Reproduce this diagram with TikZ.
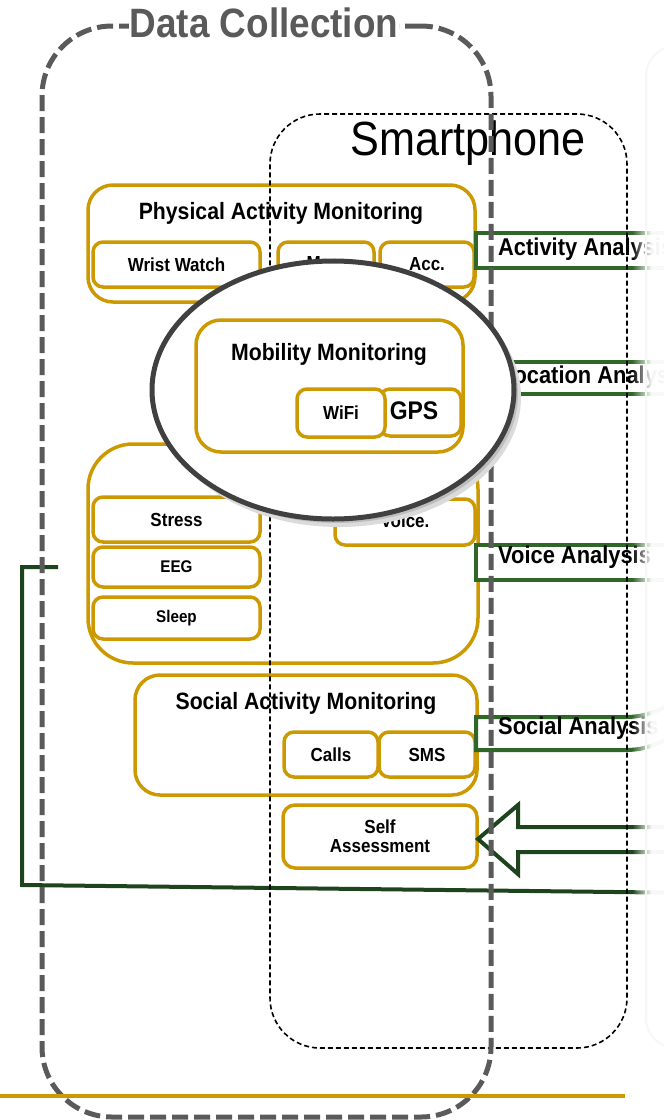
\documentclass[tikz,border=0pt]{standalone}
\usepackage{fontspec}
\setmainfont[FakeStretch=0.9]{Liberation Sans}
\usetikzlibrary{fit,fadings,shapes.geometric}
\definecolor{gold}{RGB}{204,153,0}
\definecolor{bandgreen}{RGB}{47,103,41}
\definecolor{darkgreen}{RGB}{30,68,30}
\definecolor{dcgray}{RGB}{90,90,90}
\definecolor{ringgray}{RGB}{64,64,64}
\newcommand{\fsz}[1]{\fontsize{#1}{#1}\selectfont}
\begin{document}
\begin{tikzpicture}[x=1pt,y=-1pt,
  gbox/.style={draw=gold, line width=3.5pt, fill=white, inner sep=0pt},
  gband/.style={draw=bandgreen, line width=4pt, fill=white, inner sep=0pt},
  lbl/.style={font=\bfseries\fsz{18.9}, inner sep=0pt},
  smalllbl/.style={font=\bfseries\fsz{16.9}, inner sep=0pt},
  boxtitle/.style={font=\bfseries\fsz{23.6}, inner sep=0pt},
  alabel/.style={font=\bfseries\fsz{24.3}, anchor=west, inner sep=0pt},
  fbline/.style={draw=darkgreen, line width=4pt},
  dcbox/.style={draw=dcgray, line width=5pt, dash pattern=on 16pt off 6pt, inner sep=0pt},
  phonebox/.style={draw=black, line width=1.6pt, dash pattern=on 5pt off 3pt, inner sep=0pt}]
\useasboundingbox (0,0) rectangle (664,1120);

% ---- sensing modules ----
\node[gbox, rounded corners=25pt, fit={(88,185) (475,302)}] (pam) {};
\node[boxtitle] (pamT) at (281,213) {Physical Activity Monitoring};
\node[gbox, rounded corners=10pt, fit={(93,242) (260,287)}] (wrist) {};
\node[lbl] at (wrist.center) {Wrist Watch};
\node[gbox, rounded corners=10pt, fit={(278,242) (374,287)}] (mag) {};
\node[lbl] at (mag.center) {Mag.};
\node[gbox, rounded corners=10pt, fit={(380,242) (474,287)}] (acc) {};
\node[lbl] at (acc.center) {Acc.};

\node[gbox, rounded corners=45pt, fit={(88,444) (478,663)}] (mental) {};
\node[gbox, rounded corners=10pt, fit={(93,497) (260,542)}] (stress) {};
\node[lbl] at (stress.center) {Stress};
\node[gbox, rounded corners=10pt, fit={(93,547) (260,587)}] (eeg) {};
\node[smalllbl] at (eeg.center) {EEG};
\node[gbox, rounded corners=10pt, fit={(93,597) (260,639)}] (sleep) {};
\node[smalllbl] at (sleep.center) {Sleep};
\node[gbox, rounded corners=10pt, fit={(335,499) (475,545)}] (voice) {};
\node[lbl] at (405,521) {Voice.};

\node[gbox, rounded corners=25pt, fit={(135,675) (477,795)}] (social) {};
\node[boxtitle] (socialT) at (306,703) {Social Activity Monitoring};
\node[gbox, rounded corners=10pt, fit={(284,732) (378,777)}] (calls) {};
\node[lbl] at (calls.center) {Calls};
\node[gbox, rounded corners=10pt, fit={(379,732) (475,777)}] (sms) {};
\node[lbl] at (sms.center) {SMS};

\node[gbox, rounded corners=12pt, fit={(283,805) (477,868)}] (self) {};
\node[inner sep=0pt, align=center, font=\bfseries\fontsize{18.9}{19}\selectfont] at (380,836) {Self\\Assessment};

% ---- analysis bands ----
\node[gband, fit={(476,233) (720,268)}] (actband) {};
\node[alabel] (actL) at (498,249) {Activity Analysis};
\node[gband, fit={(476,362) (720,394)}] (locband) {};
\node[alabel] (locL) at (500,377) {Location Analysis};
\node[gband, fit={(476,545) (720,580)}] (voiceband) {};
\node[alabel] (voiceL) at (498,557) {Voice Analysis};
\draw[draw=bandgreen, line width=4pt, fill=white]
  (680,700) .. controls (655,712) and (645,717) .. (625,717) -- (476,717)
  -- (476,750) -- (625,750) .. controls (645,750) and (655,745) .. (680,733);
\node[alabel] (socialL) at (498,728) {Social Analysis};

% feedback into self assessment
\coordinate (tip) at (478,839);
\draw[fbline, fill=white, line join=miter]
  (700,827) -- (518,827) -- (518,805) -- (tip) -- (518,874) -- (518,852) -- (700,852);
\coordinate (fbA) at (58,567);
\coordinate (fbB) at (22,567);
\coordinate (fbC) at (22,885);
\coordinate (fbD) at (700,893);
\draw[fbline] (fbA) -- (fbB) -- (fbC) -- (fbD);

% ---- smartphone frame ----
\node[phonebox, rounded corners=50pt, fit={(270,114) (627,1048)}] (phone) {};
\node[font=\fsz{48}, inner sep=0pt] (phoneT) at (468,143) {Smartphone};

% ---- data collection frame ----
\node[dcbox, rounded corners=70pt, fit={(42,26) (491,1117)}] (dc) {};
\node[font=\bfseries\fsz{41}, text=dcgray, fill=white, inner xsep=1pt, inner ysep=0pt] (dcT) at (264,23) {Data Collection};

% ---- magnified mobility module ----
\fill[black!14] (339,397) ellipse [x radius=182, y radius=130];
\fill[black!26] (337,394) ellipse [x radius=181, y radius=129];
\node[ellipse, draw=ringgray, line width=5pt, fill=white, minimum width=362pt, minimum height=258pt, inner sep=0pt] (lens) at (333,390) {};
\node[gbox, rounded corners=25pt, fit={(196,320) (463,452)}] (mob) {};
\node[boxtitle] (mobT) at (329,354) {Mobility Monitoring};
\node[gbox, rounded corners=10pt, fit={(380,389) (461,436)}] (gps) {};
\node[font=\bfseries\fsz{25.5}, inner sep=0pt] at (414,411) {GPS};
\node[gbox, rounded corners=10pt, fit={(297,389) (385,437)}] (wifi) {};
\node[lbl] at (wifi.center) {WiFi};

% ---- bottom rule ----
\coordinate (ruleL) at (0,1096);
\coordinate (ruleR) at (625,1096);
\draw[gold, line width=4pt] (ruleL) -- (ruleR);

% ---- right margin fade ----
\fill[white, path fading=west] (632,-5) rectangle (652,1125);
\fill[white, opacity=0.96] (652,-5) rectangle (670,1125);
\node[draw=black!3, line width=2pt, rounded corners=30pt, inner sep=0pt, fit={(646,46) (720,1048)}] (side) {};
\end{tikzpicture}
\end{document}
